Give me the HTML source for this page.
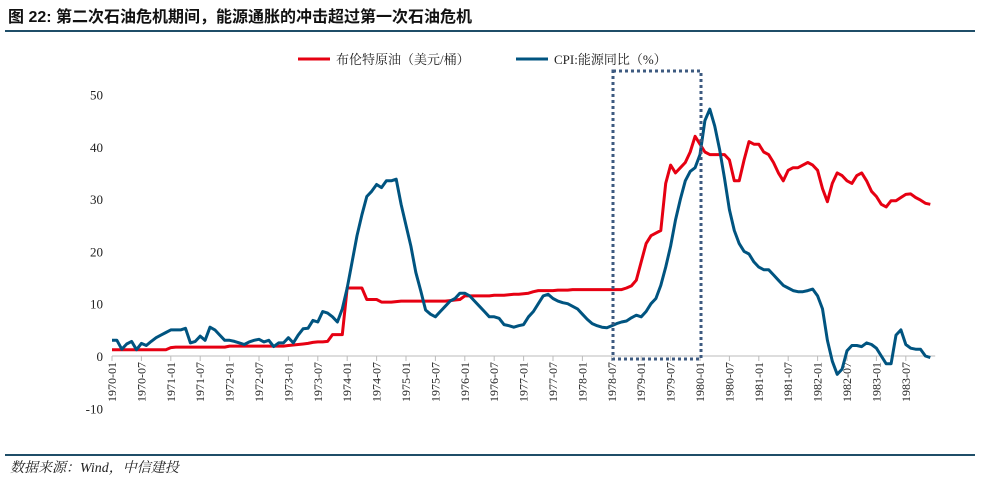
<!DOCTYPE html>
<html><head><meta charset="utf-8"><style>
body{margin:0;background:#fff;width:994px;height:488px;overflow:hidden;font-family:"Liberation Serif","Noto Serif CJK SC",serif}
svg{display:block}
</style></head><body>
<svg id="chart" width="994" height="488">
<text x="8" y="22" font-size="16" font-weight="bold" font-family="Liberation Sans, Noto Sans CJK SC, sans-serif" fill="#111">图 22: 第二次石油危机期间，能源通胀的冲击超过第一次石油危机</text>
<line x1="5" y1="31" x2="975" y2="31" stroke="#1f4e68" stroke-width="2"/>
<g>
<line x1="298" y1="59" x2="330" y2="59" stroke="#e60012" stroke-width="3"/>
<text x="336" y="64" font-size="13" fill="#222">布伦特原油（美元/桶）</text>
<line x1="516" y1="59" x2="548" y2="59" stroke="#005480" stroke-width="3"/>
<text x="554" y="64" font-size="13" fill="#222">CPI:能源同比（%）</text>
</g>
<g id="axes"></g>
<g id="series"></g>
<rect x="613" y="71" width="88" height="288" fill="none" stroke="#3d5a80" stroke-width="3" stroke-dasharray="3,3"/>
<line x1="5" y1="455" x2="975" y2="455" stroke="#1f4e68" stroke-width="2"/>
<text x="10" y="472" font-size="14" font-style="italic" fill="#222">数据来源：Wind，中信建投</text>
</svg>
<script>
const startYear = 1970;
const yTicks = [50, 40, 30, 20, 10, 0, -10];
const brent = [
1.2,1.2,1.2,1.2,1.2,1.2,1.2,1.2,1.2,1.2,1.2,1.2,
1.6,1.7,1.7,1.7,1.7,1.7,1.7,1.7,1.7,1.7,1.7,1.7,
1.9,1.9,1.9,1.9,1.9,1.9,1.9,1.9,1.9,1.9,1.9,1.9,
2.0,2.1,2.2,2.3,2.4,2.6,2.7,2.7,2.8,4.1,4.1,4.1,
13,13,13,13,10.8,10.8,10.8,10.3,10.3,10.3,10.4,10.5,
10.5,10.5,10.5,10.5,10.5,10.5,10.5,10.5,10.5,10.6,10.7,10.8,
11.5,11.5,11.5,11.5,11.5,11.5,11.6,11.6,11.6,11.7,11.8,11.8,
11.9,12.0,12.3,12.5,12.5,12.5,12.5,12.6,12.6,12.6,12.7,12.7,
12.7,12.7,12.7,12.7,12.7,12.7,12.7,12.7,12.7,13.0,13.4,14.5,
18,21.5,23,23.5,24,33,36.5,35,36,37,39,42,
40.5,39,38.5,38.5,38.5,38.5,37.5,33.5,33.5,37.5,41,40.5,
40.5,39,38.5,37,35,33.5,35.5,36,36,36.5,37,36.5,
35.5,32,29.5,33,35,34.5,33.5,33,34.5,35,33.5,31.5,
30.5,29,28.5,29.7,29.7,30.3,30.9,31,30.3,29.8,29.2,29];
const cpiEnergy = [
3,3,1.3,2.3,2.8,1.2,2.4,2,2.8,3.5,4,4.5,
5,5,5,5.3,2.5,2.8,3.8,3,5.5,5,4,3,
3,2.8,2.5,2.2,2.7,3,3.2,2.7,3,1.8,2.5,2.5,
3.5,2.5,4,5.2,5.3,6.8,6.5,8.5,8.2,7.5,6.5,9,
13,18,23,27,30.5,31.5,32.8,32.2,33.5,33.5,33.8,29,
25,21,16,12.5,8.8,8,7.5,8.5,9.5,10.5,11,12,
12,11.5,10.5,9.5,8.5,7.5,7.5,7.2,6,5.8,5.5,5.8,
6,7.5,8.5,10,11.5,11.8,11,10.5,10.2,10,9.5,9,
8,7,6.2,5.8,5.5,5.4,5.8,6.2,6.5,6.7,7.3,7.8,
7.5,8.5,10,11,13.5,17,21,26,30,33.5,35.3,36,
38.5,45,47.2,44,39.5,34,28,24,21.5,20,19.5,18,
17,16.5,16.5,15.5,14.5,13.5,13,12.5,12.3,12.3,12.5,12.8,
11.5,9,3,-1,-3.5,-2.5,1,2,2,1.8,2.5,2.2,
1.5,0,-1.5,-1.5,4,5,2.2,1.5,1.3,1.3,0,-0.3];
const NS='http://www.w3.org/2000/svg';
const X0=112, DX=4.9, Y0=356, KY=5.23;
function x(i){return X0+i*DX;}
function y(v){return Y0-v*KY;}
const axes=document.getElementById('axes');
const series=document.getElementById('series');
function mk(tag,attrs,parent){const e=document.createElementNS(NS,tag);for(const k in attrs)e.setAttribute(k,attrs[k]);parent.appendChild(e);return e;}
const n=brent.length;
const ax=mk('line',{x1:X0,y1:y(0),x2:x(n),y2:y(0),stroke:'#bbb','stroke-width':1},axes);


yTicks.forEach(v=>{
 const t=mk('text',{x:103,y:y(v)+5,'text-anchor':'end','font-size':13,fill:'#222'},axes);
 t.textContent=v;
 
 
});
for(let i=0;i<n;i+=6){
 const tk=mk('line',{x1:x(i),y1:y(0),x2:x(i),y2:y(0)+5,stroke:'#bbb'},axes);
 
 
 const yr=startYear+Math.floor(i/12), mo=(i%12)+1;
 const lbl=yr+'-'+(mo<10?'0':'')+mo;
 const t=mk('text',{x:0,y:0,'text-anchor':'end','font-size':12,fill:'#222',transform:`translate(${x(i)+4},362) rotate(-90)`},axes);
 t.textContent=lbl;
 
 
}
function line(arr,color,name){
 const d=arr.map((v,i)=>(i?'L':'M')+x(i).toFixed(1)+','+y(v).toFixed(1)).join('');
 const p=mk('path',{d:d,fill:'none',stroke:color,'stroke-width':3,'stroke-linejoin':'round'},series);
 
 
}
line(brent,'#e60012','brent-line');
line(cpiEnergy,'#005480','cpi-energy-line');
</script>
</body></html>
